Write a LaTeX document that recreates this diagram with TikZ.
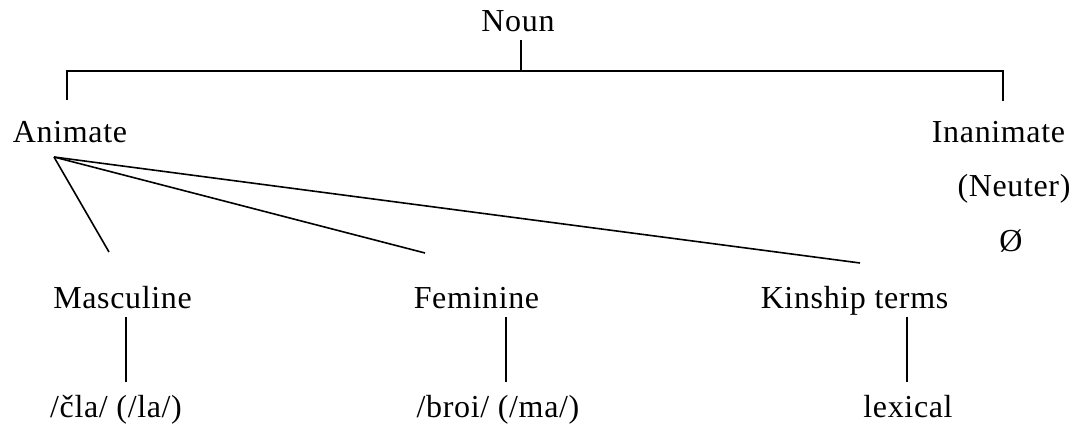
\documentclass[tikz,border=0pt]{standalone}
\usepackage{fontspec}
\setmainfont[LetterSpace=2]{Liberation Serif}
\tikzset{
  lbl/.style={anchor=base, inner sep=0pt, font=\fontsize{32}{36}\selectfont},
  branch/.style={line width=1.6pt}
}
\begin{document}
\begin{tikzpicture}[x=1pt, y=-1pt]
  \useasboundingbox (0,0) rectangle (1077,427);
  % Labels
  \node[lbl] (noun) at (518,32) {Noun};
  \node[lbl] (animate) at (70,143) {Animate};
  \node[lbl] (inanimate) at (998.5,143) {Inanimate};
  \node[lbl] (neuter) at (1014,197) {(Neuter)};
  \node[lbl] (zero) at (1011,252) {Ø};
  \node[lbl] (masc) at (122.5,309) {Masculine};
  \node[lbl] (fem) at (476.5,309) {Feminine};
  \node[lbl] (kin) at (854.5,309) {Kinship terms};
  \node[lbl] (cla) at (116,418) {/čla/ (/la/)};
  \node[lbl] (broi) at (498,418) {/broi/ (/ma/)};
  \node[lbl] (lex) at (908,418) {lexical};

  % Line ends
  \coordinate (nounfoot) at (521,40);
  \coordinate (bar) at (521,71);
  \coordinate (animtop) at (67,100);
  \coordinate (inantop) at (1003,101);
  \coordinate (animfoot) at (54,157);
  \coordinate (masctop) at (109,252);
  \coordinate (femtop) at (425,253);
  \coordinate (kintop) at (860,263);

  % Top split
  \draw[branch] (nounfoot) -- (bar);
  \draw[branch] (animtop) |- (bar) -| (inantop);

  % Animate split
  \draw[branch] (animfoot) -- (masctop);
  \draw[branch] (animfoot) -- (femtop);
  \draw[branch] (animfoot) -- (kintop);

  % Markers
  \foreach \up/\down/\x in {masc/cla/126, fem/broi/506, kin/lex/907}
    \draw[branch] (\x,317) -- (\x,382);
\end{tikzpicture}
\end{document}
